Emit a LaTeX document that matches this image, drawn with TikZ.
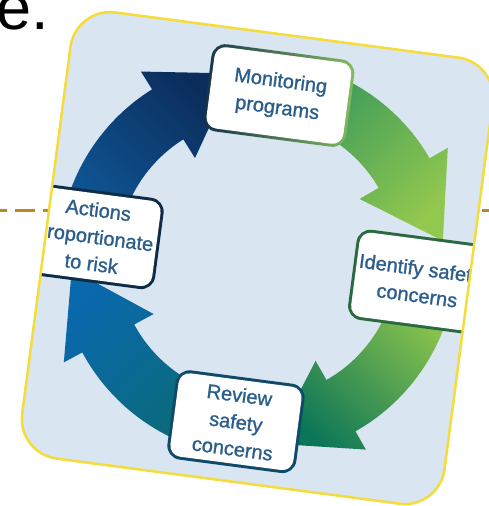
\documentclass[tikz,border=0pt]{standalone}
\usepackage{fontspec}
\setmainfont{Liberation Sans}
\newfontfamily\boxfont{Liberation Sans}[FakeBold=1.2]
\usetikzlibrary{calc}
\definecolor{cardbg}{HTML}{D9E5F1}
\definecolor{cardedge}{HTML}{F4DC3A}
\definecolor{dashc}{HTML}{B8882C}
\definecolor{txt}{HTML}{2C5E8C}
\definecolor{navy}{HTML}{0B2D5B}
\definecolor{bluetl}{HTML}{0F5A9C}
\definecolor{gdark}{HTML}{3C9A5A}
\definecolor{glight}{HTML}{92C84E}
\definecolor{brlight}{HTML}{8CC44C}
\definecolor{brdark}{HTML}{0B7558}
\definecolor{blteal}{HTML}{0A6B76}
\definecolor{blblue}{HTML}{0A68AC}
\definecolor{monleft}{HTML}{12304A}
\definecolor{monright}{HTML}{86BE5E}
\definecolor{idedge}{HTML}{2B6A40}
\definecolor{revedge}{HTML}{0F4B68}
\definecolor{actedge}{HTML}{0E2C48}
\newcommand\cyclearrow[3]{%
  \pgfmathsetmacro\tangdir{#2-90}%
  \path[#3] (#1:199) arc[start angle=#1, end angle=#2, radius=199]
    -- (#2:220) -- ($(#2:169)+(\tangdir:78)$) -- (#2:118) -- (#2:140)
    arc[start angle=#2, end angle=#1, radius=140] -- cycle;
}
\begin{document}
\begin{tikzpicture}[x=1pt,y=1pt,
  boxframe/.style={rounded corners=14pt, transform shape, inner sep=0pt},
  boxtext/.style={fill=white, rounded corners=11pt, align=center, text=txt,
    font=\boxfont\fontsize{20}{27}\selectfont, transform shape, inner sep=0pt},
  titletext/.style={anchor=base west, inner sep=0pt, font=\fontsize{63}{63}\selectfont},
  rule/.style={dashc, line width=3pt}
]
\useasboundingbox (0,-506) rectangle (489,0);
\draw[rule, dash pattern=on 20pt off 8pt] (-13,-210) -- (60,-210);
\draw[rule] (482,-210) -- (495,-210);
\node[titletext] (title) at (-4,-29.5) {e.};
\begin{scope}[shift={(257.5,-258.1)}, rotate=-7.5]
  \fill[cardbg, rounded corners=40pt] (-213,-225) rectangle (213,225);
  \begin{scope}
    \clip[rounded corners=40pt] (-213,-225) rectangle (213,225);
    \cyclearrow{185}{129.5}{top color=navy, bottom color=bluetl, shading angle=-45}
    \cyclearrow{80}{37.6}{top color=gdark, bottom color=glight, shading angle=45}
    \cyclearrow{-5}{-53}{top color=brlight, bottom color=brdark, shading angle=-45}
    \cyclearrow{-95}{-144.2}{top color=blblue, bottom color=blteal, shading angle=45}
    % boxes
    \node[boxframe, minimum width=144pt, minimum height=88pt, left color=monleft, right color=monright] (monframe) at (0,164) {};
    \node[boxtext, minimum width=138pt, minimum height=82pt] (mon) at (0,164) {Monitoring\\programs};
    \node[boxframe, minimum width=134pt, minimum height=91pt, fill=idedge] (idframe) at (163,-2.5) {};
    \node[boxtext, minimum width=128pt, minimum height=85pt] (ident) at (163,-2.5) {Identify safety\\concerns};
    \node[boxframe, minimum width=130pt, minimum height=90pt, fill=revedge] (revframe) at (0,-165) {};
    \node[boxtext, minimum width=124pt, minimum height=84pt] (rev) at (0,-165) {Review\\safety\\concerns};
    \node[boxframe, minimum width=130pt, minimum height=92pt, fill=actedge] (actframe) at (-164,0) {};
    \node[boxtext, minimum width=124pt, minimum height=86pt] (act) at (-164,0) {Actions\\proportionate\\to risk};
  \end{scope}
  \draw[cardedge, line width=2.5pt, rounded corners=40pt] (-213,-225) rectangle (213,225);
\end{scope}
\end{tikzpicture}
\end{document}
